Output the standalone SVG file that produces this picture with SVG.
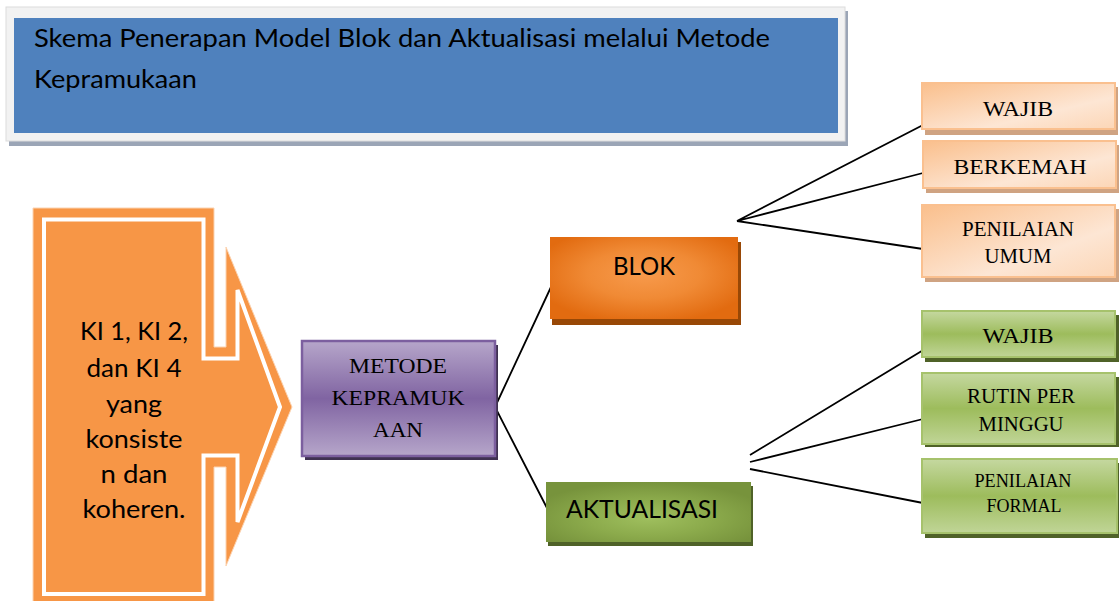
<svg xmlns="http://www.w3.org/2000/svg" width="1119" height="601" viewBox="0 0 1119 601">
<defs>
<style>
.sans{font-family:Lato,"Open Sans","Liberation Sans",sans-serif;fill:#000}
.serif{font-family:"Liberation Serif","Times New Roman",serif;fill:#000}
.line{stroke:#000;stroke-width:1.8;fill:none}
</style>
<linearGradient id="gPurple" x1="0" y1="0" x2="0" y2="1">
<stop offset="0" stop-color="#b6a6ca"/><stop offset="0.5" stop-color="#8064a2"/><stop offset="1" stop-color="#b6a6ca"/>
</linearGradient>
<radialGradient id="gBlok" cx="0.5" cy="0.45" r="0.6">
<stop offset="0" stop-color="#f79a4c"/><stop offset="0.5" stop-color="#f08a35"/><stop offset="1" stop-color="#e26b10"/>
</radialGradient>
<radialGradient id="gAkt" cx="0.5" cy="0.6" r="0.6">
<stop offset="0" stop-color="#9fbf5e"/><stop offset="0.5" stop-color="#8cab4c"/><stop offset="1" stop-color="#77933c"/>
</radialGradient>
<linearGradient id="gPeach" x1="0" y1="0" x2="1" y2="1">
<stop offset="0" stop-color="#fabf8c"/><stop offset="0.65" stop-color="#fde6d4"/><stop offset="1" stop-color="#fcd6b6"/>
</linearGradient>
<linearGradient id="gGreen" x1="0" y1="0" x2="0" y2="1">
<stop offset="0" stop-color="#c5d8a0"/><stop offset="0.5" stop-color="#9dbc5c"/><stop offset="1" stop-color="#c0d597"/>
</linearGradient>
</defs>

<g id="title">
<rect x="9" y="11" width="839" height="135" fill="#9ba5b6"/>
<rect x="6" y="7" width="839" height="134" fill="#f2f2f2" stroke="#dcdcdc" stroke-width="1"/>
<rect x="14" y="18" width="824" height="115" fill="#4f81bd"/>
<text class="sans" x="34" y="47" font-size="25" textLength="736" lengthAdjust="spacingAndGlyphs">Skema Penerapan Model Blok dan Aktualisasi melalui Metode</text>
<text class="sans" x="34" y="88" font-size="25" textLength="163" lengthAdjust="spacingAndGlyphs">Kepramukaan</text>
</g>

<g id="ki-arrow">
<path d="M33 208 H214 V347 H226 V247 L292 407 L226 566 V467 H214 V606 H33 Z" fill="#f79646" stroke="#fbd3b1" stroke-width="1"/>
<path d="M44 219.5 H203.5 V358.5 H237.5 V290 L280 407 L237.5 522 V455.5 H203.5 V594 H44 Z" fill="#f79646" stroke="#ffffff" stroke-width="4"/>
<g class="sans" font-size="25" text-anchor="middle">
<text x="134" y="340" textLength="108" lengthAdjust="spacingAndGlyphs">KI 1, KI 2,</text>
<text x="134" y="377" textLength="95" lengthAdjust="spacingAndGlyphs">dan KI 4</text>
<text x="134" y="413" textLength="56" lengthAdjust="spacingAndGlyphs">yang</text>
<text x="134" y="448" textLength="97" lengthAdjust="spacingAndGlyphs">konsiste</text>
<text x="134" y="483" textLength="67" lengthAdjust="spacingAndGlyphs">n dan</text>
<text x="134" y="518" textLength="103" lengthAdjust="spacingAndGlyphs">koheren.</text>
</g>
</g>

<g id="connectors">
<path class="line" d="M495 407 L551 287 M495 407 L547 508"/>
<path class="line" d="M737 221 L923 125 M737 221 L923 173 M737 221 L923 249"/>
<path class="line" d="M750 455 L925 349 M750 462 L923 419 M750 469 L923 503"/>
</g>

<g id="metode">
<rect x="305" y="345" width="193" height="115" fill="#3f3151"/>
<rect x="302" y="341" width="193" height="115" fill="url(#gPurple)" stroke="#7c5f9f" stroke-width="2.5"/>
<g class="serif" font-size="22" text-anchor="middle">
<text x="398" y="373" textLength="98" lengthAdjust="spacingAndGlyphs">METODE</text>
<text x="398" y="405" textLength="133" lengthAdjust="spacingAndGlyphs">KEPRAMUK</text>
<text x="398" y="437" textLength="50" lengthAdjust="spacingAndGlyphs">AAN</text>
</g>
</g>

<g id="blok">
<rect x="552" y="242" width="189" height="83" fill="#984806"/>
<rect x="550" y="237" width="188" height="82" fill="url(#gBlok)"/>
<text class="sans" x="644" y="275" font-size="25" text-anchor="middle" textLength="62" lengthAdjust="spacingAndGlyphs">BLOK</text>
</g>

<g id="aktualisasi">
<rect x="548" y="486" width="205" height="60" fill="#4f6228"/>
<rect x="546" y="482" width="205" height="60" fill="url(#gAkt)"/>
<text class="sans" x="642" y="518" font-size="25" text-anchor="middle" textLength="152" lengthAdjust="spacingAndGlyphs">AKTUALISASI</text>
</g>

<g id="blok-wajib">
<rect x="925" y="87" width="193" height="48" fill="#cfa382"/>
<rect x="922" y="83" width="193" height="46" fill="url(#gPeach)" stroke="#fac08f" stroke-width="2"/>
<text class="serif" x="1018" y="116" font-size="21" text-anchor="middle" textLength="70" lengthAdjust="spacingAndGlyphs">WAJIB</text>
</g>

<g id="blok-berkemah">
<rect x="926" y="145" width="193" height="48" fill="#cfa382"/>
<rect x="923" y="141" width="193" height="47" fill="url(#gPeach)" stroke="#fac08f" stroke-width="2"/>
<text class="serif" x="1020" y="174" font-size="21" text-anchor="middle" textLength="133" lengthAdjust="spacingAndGlyphs">BERKEMAH</text>
</g>

<g id="blok-penilaian">
<rect x="925" y="209" width="194" height="73" fill="#cfa382"/>
<rect x="922" y="205" width="193" height="72" fill="url(#gPeach)" stroke="#fac08f" stroke-width="2"/>
<text class="serif" x="1018" y="236" font-size="20" text-anchor="middle" textLength="112" lengthAdjust="spacingAndGlyphs">PENILAIAN</text>
<text class="serif" x="1018" y="263" font-size="20" text-anchor="middle" textLength="67" lengthAdjust="spacingAndGlyphs">UMUM</text>
</g>

<g id="akt-wajib">
<rect x="925" y="315" width="194" height="47" fill="#4f6228"/>
<rect x="922" y="311" width="193" height="46" fill="url(#gGreen)" stroke="#a6c26c" stroke-width="2"/>
<text class="serif" x="1018" y="343" font-size="22" text-anchor="middle" textLength="71" lengthAdjust="spacingAndGlyphs">WAJIB</text>
</g>

<g id="akt-rutin">
<rect x="925" y="377" width="194" height="70" fill="#4f6228"/>
<rect x="922" y="373" width="193" height="71" fill="url(#gGreen)" stroke="#a6c26c" stroke-width="2"/>
<text class="serif" x="1021" y="403" font-size="20" text-anchor="middle" textLength="108" lengthAdjust="spacingAndGlyphs">RUTIN PER</text>
<text class="serif" x="1021" y="431" font-size="20" text-anchor="middle" textLength="85" lengthAdjust="spacingAndGlyphs">MINGGU</text>
</g>

<g id="akt-penilaian">
<rect x="925" y="463" width="194" height="75" fill="#4f6228"/>
<rect x="922" y="459" width="195" height="74" fill="url(#gGreen)" stroke="#a6c26c" stroke-width="2"/>
<text class="serif" x="1023" y="487" font-size="18" text-anchor="middle" textLength="97" lengthAdjust="spacingAndGlyphs">PENILAIAN</text>
<text class="serif" x="1024" y="512" font-size="18" text-anchor="middle" textLength="75" lengthAdjust="spacingAndGlyphs">FORMAL</text>
</g>
</svg>
